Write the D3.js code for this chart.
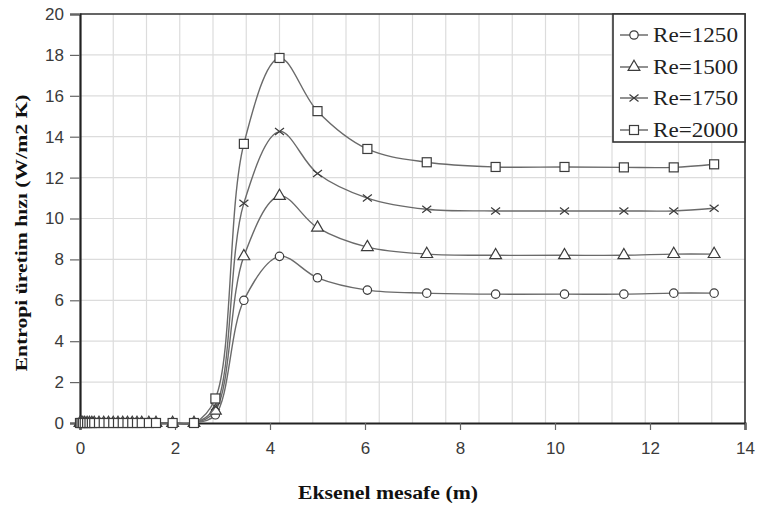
<!DOCTYPE html>
<html>
<head>
<meta charset="utf-8">
<script src="https://cdn.jsdelivr.net/npm/d3@7"></script>
<style>
  html, body { margin: 0; padding: 0; background: #fff; }
  svg { display: block; }
</style>
</head>
<body>
<svg id="chart" width="761" height="510"></svg>
<script>
// ---- Data ----
const xPositions = [0, 0.03, 0.06, 0.1, 0.15, 0.2, 0.25, 0.3, 0.4, 0.5, 0.6, 0.7, 0.8, 0.9, 1.0, 1.1, 1.2, 1.3, 1.45, 1.6, 1.95, 2.4, 2.85, 3.45, 4.2, 5.0, 6.05, 7.3, 8.75, 10.2, 11.45, 12.5, 13.35];
const zeros = [0, 0, 0, 0, 0, 0, 0, 0, 0, 0, 0, 0, 0, 0, 0, 0, 0, 0, 0, 0, 0, 0];
const re1250 = zeros.concat([0.4, 6.0, 8.15, 7.1, 6.5, 6.35, 6.3, 6.3, 6.3, 6.35, 6.35]);
const re1500 = zeros.concat([0.6, 8.15, 11.1, 9.55, 8.6, 8.26, 8.2, 8.2, 8.2, 8.26, 8.26]);
const re1750 = zeros.concat([0.8, 10.75, 14.25, 12.2, 11.0, 10.45, 10.37, 10.37, 10.37, 10.37, 10.5]);
const re2000 = zeros.concat([1.2, 13.65, 17.85, 15.25, 13.4, 12.75, 12.52, 12.52, 12.5, 12.5, 12.65]);
const seriesNames = ["Re=1250", "Re=1500", "Re=1750", "Re=2000"];
const seriesValues = [re1250, re1500, re1750, re2000];
const markerTypes = ["circle", "triangle", "cross", "square"];
const xTickValues = [0, 2, 4, 6, 8, 10, 12, 14];
const yTickValues = [0, 2, 4, 6, 8, 10, 12, 14, 16, 18, 20];
const xGridValues = d3.range(0, 21).map(i => i * 0.7);
const xTitle = "Eksenel mesafe (m)";
const yTitle = "Entropi üretim hızı (W/m2 K)";

// ---- Layout ----
const L = 80, R = 745, T = 14, B = 423;
const svg = d3.select("#chart");
const x = d3.scaleLinear().domain([0, 14]).range([L, R]);
const y = d3.scaleLinear().domain([0, 20]).range([B, T]);

// gridlines
svg.append("g").selectAll("line").data(xGridValues.slice(1, -1)).join("line")
  .attr("x1", d => x(d)).attr("x2", d => x(d)).attr("y1", T).attr("y2", B)
  .attr("stroke", "#dcdcdc").attr("stroke-width", 1.2);
svg.append("g").selectAll("line").data(yTickValues.slice(1, -1)).join("line")
  .attr("y1", d => y(d)).attr("y2", d => y(d)).attr("x1", L).attr("x2", R)
  .attr("stroke", "#dcdcdc").attr("stroke-width", 1.2);

// border top/right
svg.append("path").attr("d", `M${L},${T}H${R}V${B}`).attr("fill", "none")
  .attr("stroke", "#333").attr("stroke-width", 1.6);

// axes
const xAxis = svg.append("g").attr("transform", `translate(0,${B})`)
  .call(d3.axisBottom(x).tickValues(xTickValues).tickSize(7).tickPadding(12).tickFormat(d3.format("d")));
const yAxis = svg.append("g").attr("transform", `translate(${L},0)`)
  .call(d3.axisLeft(y).tickValues(yTickValues).tickSize(10).tickPadding(6).tickFormat(d3.format("d")));
[xAxis, yAxis].forEach(a => {
  a.select(".domain").attr("stroke", "#222").attr("stroke-width", 2.2);
  a.selectAll(".tick line").attr("stroke", "#666").attr("stroke-width", 1.2);
  a.selectAll(".tick text").attr("font-family", "'Liberation Sans', Arial, sans-serif")
    .attr("font-size", 17).attr("fill", "#3a3a3a");
});

// lines
const line = d3.line().x(d => x(d[0])).y(d => y(d[1])).curve(d3.curveCatmullRom.alpha(0.5));
function marker(g, type, cx, cy) {
  const s = "#3c3c3c";
  if (type === "circle") {
    g.append("circle").attr("cx", cx).attr("cy", cy).attr("r", 4.2)
      .attr("fill", "#fff").attr("stroke", s).attr("stroke-width", 1.2);
  } else if (type === "triangle") {
    g.append("path").attr("d", d3.symbol(d3.symbolTriangle, 60)()).attr("transform", `translate(${cx},${cy})`)
      .attr("fill", "#fff").attr("stroke", s).attr("stroke-width", 1.2);
  } else if (type === "cross") {
    g.append("path").attr("d", `M${cx-4.5},${cy-3.5}L${cx+4.5},${cy+3.5}M${cx-4.5},${cy+3.5}L${cx+4.5},${cy-3.5}`)
      .attr("stroke", s).attr("stroke-width", 1.2);
  } else {
    g.append("rect").attr("x", cx - 4.5).attr("y", cy - 4.5).attr("width", 9).attr("height", 9)
      .attr("fill", "#fff").attr("stroke", s).attr("stroke-width", 1.2);
  }
}
seriesValues.forEach((vals, i) => {
  const pts = xPositions.map((xv, j) => [xv, vals[j]]);
  const g = svg.append("g");
  g.append("path").attr("d", line(pts)).attr("fill", "none").attr("stroke", "#6a6a6a").attr("stroke-width", 1.4);
  pts.forEach(p => marker(g, markerTypes[i], x(p[0]), y(p[1])));
});

// legend
const lg = svg.append("g");
lg.append("rect").attr("x", 613).attr("y", T).attr("width", R - 613).attr("height", 128)
  .attr("fill", "#fff").attr("stroke", "#333").attr("stroke-width", 1.6);
const rowY = [35, 67, 98, 130];
seriesNames.forEach((n, i) => {
  lg.append("line").attr("x1", 620).attr("x2", 648).attr("y1", rowY[i]).attr("y2", rowY[i])
    .attr("stroke", "#555").attr("stroke-width", 1.3);
  marker(lg, markerTypes[i], 634, rowY[i]);
  lg.append("text").attr("x", 653).attr("y", rowY[i]).attr("dy", "0.35em")
    .attr("font-family", "'Liberation Serif', 'Times New Roman', serif").attr("font-size", 21)
    .attr("fill", "#222").attr("textLength", 85).attr("lengthAdjust", "spacingAndGlyphs").text(n);
});

// titles
svg.append("text").attr("x", 388).attr("y", 499).attr("text-anchor", "middle")
  .attr("font-family", "'Liberation Serif', 'Times New Roman', serif").attr("font-weight", "bold")
  .attr("font-size", 18).attr("fill", "#111").attr("textLength", 180).attr("lengthAdjust", "spacingAndGlyphs")
  .text(xTitle);
svg.append("text").attr("transform", "translate(27,233) rotate(-90)").attr("text-anchor", "middle")
  .attr("font-family", "'Liberation Serif', 'Times New Roman', serif").attr("font-weight", "bold")
  .attr("font-size", 17).attr("fill", "#111").attr("textLength", 277).attr("lengthAdjust", "spacingAndGlyphs")
  .text(yTitle);
</script>
</body>
</html>
